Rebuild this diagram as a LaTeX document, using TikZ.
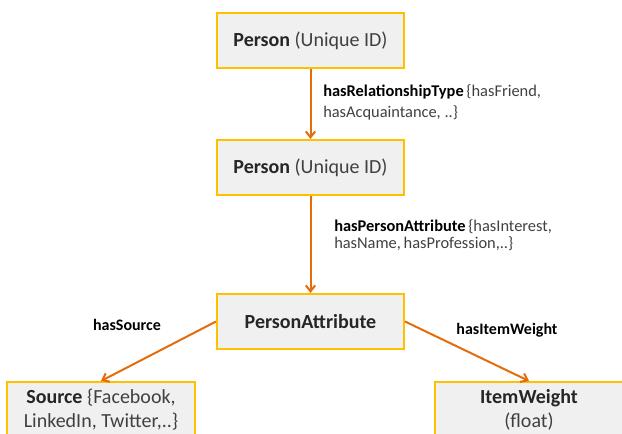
\documentclass[tikz,border=0pt]{standalone}
\usepackage{fontspec}
\setmainfont{Carlito}
\usetikzlibrary{arrows.meta}
\definecolor{boxline}{HTML}{FFC000}
\definecolor{boxfill}{HTML}{F0F0F0}
\definecolor{arrowc}{HTML}{E46C0A}
\definecolor{txt}{HTML}{404040}
\definecolor{txtb}{HTML}{262626}
\tikzset{
  entity/.style={draw=boxline, line width=1.5pt, fill=boxfill,
    minimum width=140.25pt, minimum height=41.25pt, inner sep=0pt,
    align=center, text=txt, font=\fontsize{15}{18}\selectfont},
  conn/.style={draw=arrowc, line width=1.5pt, -{Straight Barb[length=4.5pt,width=7pt]}},
  rellabel/.style={inner sep=0pt, align=left, text=black},
}
\begin{document}
\begin{tikzpicture}[x=0.75pt,y=-0.75pt]
\useasboundingbox (0,0) rectangle (622,434);
\clip (0,0) rectangle (622,434);
\node[entity] (p1) at (310.5,40.5) {{\bfseries\color{txtb}Person} (Unique ID)};
\node[entity] (p2) at (310.5,167.5) {{\bfseries\color{txtb}Person} (Unique ID)};
\node[entity] (pa) at (310.5,321.5) {{\bfseries\color{txtb}PersonAttribute}};
\node[entity, minimum width=141pt] (src) at (101,409.5) {{\bfseries\color{txtb}Source} \{Facebook,\\LinkedIn, Twitter,..\}};
\node[entity, minimum width=141pt] (iw) at (529,409.5) {{\bfseries\color{txtb}ItemWeight}\\(float)};
\draw[conn] (p1.south) -- (p2.north);
\draw[conn] (p2.south) -- (pa.north);
\draw[conn] (pa.west) -- (src.north);
\draw[conn] (pa.east) -- (iw.north);
\node[rellabel, anchor=west, font=\fontsize{12.3}{15.75}\selectfont] (l1) at (323,102.5)
  {\textbf{hasRelationshipType}\,{\color{txt}\{hasFriend,}\\{\color{txt}hasAcquaintance, ..\}}};
\node[rellabel, anchor=west, font=\fontsize{12.3}{13}\selectfont] (l2) at (334,235.5)
  {\textbf{hasPersonAttribute}\,{\color{txt}\{hasInterest,}\\{\color{txt}hasName,\,hasProfession,..\}}};
\node[rellabel, font=\fontsize{12}{14}\selectfont\bfseries] (l3) at (127,325) {hasSource};
\node[rellabel, font=\fontsize{12}{14}\selectfont\bfseries] (l4) at (507,330) {hasItemWeight};
\end{tikzpicture}
\end{document}
